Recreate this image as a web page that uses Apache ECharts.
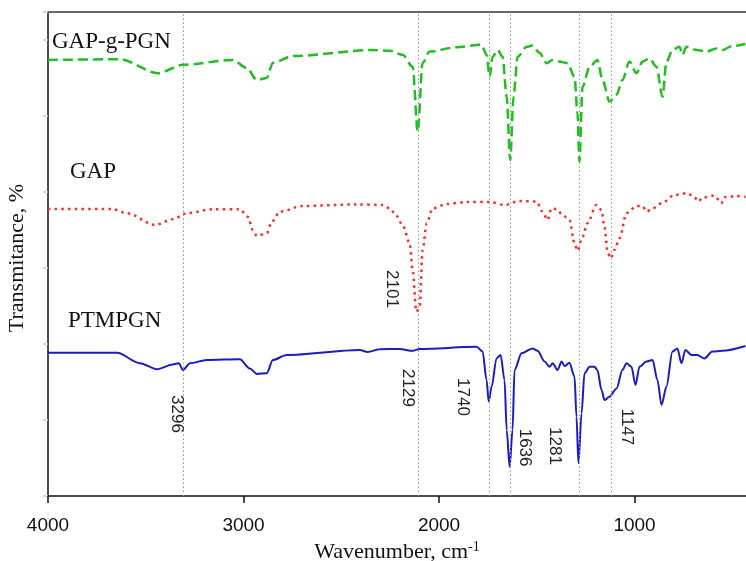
<!DOCTYPE html>
<html>
<head>
<meta charset="utf-8">
<script src="https://cdn.jsdelivr.net/npm/echarts@6/dist/echarts.min.js"></script>
<style>
  html, body { margin: 0; padding: 0; background: #fff; }
  #chart { width: 746px; height: 561px; }
</style>
</head>
<body>
<div id="chart"></div>
<script>
// FTIR spectra, wavenumber (cm-1) vs transmittance (arbitrary offset units)
var xTicks = [4000, 3000, 2000, 1000];

var gapgpgnWn = [4000,3632,3438,3310,3055,2983,2932,2881,2850,2748,2339,2252,2186,2135,2109,2084,2048,1910,1782,1757,1741,1726,1700,1675,1654,1636,1619,1598,1552,1522,1486,1450,1419,1384,1343,1307,1292,1282,1266,1230,1190,1164,1128,1092,1062,1026,990,959,924,888,857,837,806,770,755,735,684,632,581,551,500,433];
var gapgpgnT = [109,109.2,105.7,107.8,109,107,104,104.5,108.3,110,111.5,111.3,110.3,107.3,91.1,108.3,111.1,112.2,112.8,110.3,104.8,109.8,111.5,109.8,99.8,84,99.8,109.8,112.3,112.6,110.8,108.2,109,108.6,108.2,104.8,95.8,83.6,102.3,107.3,109,104,98.6,100.3,104,108.6,105.7,108.6,109.4,107.3,99.8,108.5,111.5,112.3,110.3,112.3,111.5,111.1,111.9,111.5,112.5,113];

var gapWn = [4000,3673,3596,3453,3361,3290,3157,3019,2978,2952,2932,2881,2855,2814,2697,2421,2288,2252,2227,2186,2150,2135,2116,2099,2084,2063,2033,1961,1859,1741,1665,1588,1501,1471,1445,1425,1399,1368,1333,1307,1292,1266,1241,1195,1169,1154,1138,1123,1103,1077,1041,990,959,939,908,857,796,730,694,673,653,592,556,541,479,433];
var gapT = [71.75,71.75,70.7,67.75,69.2,70.7,71.7,71.7,69.8,66.5,65,65.7,68.6,71.1,72.5,72.9,72.75,71.9,70.7,67.75,63.2,56.5,46.1,47.3,61.5,68.2,71.9,73,73.5,73.5,72.75,73.75,73.6,71.1,69,71.9,71.7,70.25,69,63.2,61.3,64.8,68.2,72.75,71.5,67.3,61.1,59.4,61.5,64.4,70.7,72.5,72.5,71.1,71.9,73.3,75.25,75.7,74.7,73.6,74.6,75.1,73.2,74.7,75,74.8];

var ptmpgnWn = [4000,3647,3530,3443,3361,3331,3310,3274,3188,3019,2968,2932,2881,2850,2779,2406,2365,2303,2201,2135,2099,1808,1777,1757,1746,1731,1706,1685,1665,1654,1639,1624,1614,1578,1522,1496,1460,1435,1419,1394,1373,1358,1333,1307,1297,1287,1271,1256,1230,1205,1190,1169,1154,1128,1092,1062,1041,1016,995,975,939,908,883,862,837,806,781,760,740,709,679,643,602,551,433];
var ptmpgnT = [35.8,35.8,33.2,31.7,32.9,33.2,31.5,33.2,34,34.2,31.9,30.5,30.7,34,35.25,36.5,36,36.7,36.75,36.3,36.75,37.3,36.1,29,23.6,27.3,34.4,35.25,29,16.5,7.3,16.5,31.5,35.7,36.9,36.3,33.6,32.3,33.2,31.5,33.6,32.5,33.3,29.8,19.8,8.2,20.7,30.7,32.3,32.3,31.5,26.5,24,24.8,26.9,31.5,33.2,32.3,27.75,32.3,33.6,34,29,22.75,27.3,36.1,36.9,33.2,36.5,35.25,35.25,34.4,36.1,36.3,37.5];

// dotted guide lines and their peak labels
var guideWn = [3310, 2108, 1745, 1638, 1282, 1118];
var peakText = ['3296', '2129', '2101', '1740', '1636', '1281', '1147'];
var peakWn = [3342, 2160, 2242, 1879, 1562, 1408, 1042];
var peakT = [20.5, 27, 51.75, 24.75, 12.1, 12.5, 17.25];

var serif = '"Liberation Serif", "Times New Roman", serif';
var sans = '"Liberation Sans", Arial, sans-serif';

function pairs(xs, ys) {
  return xs.map(function (x, i) { return [x, ys[i]]; });
}

var myChart = echarts.init(document.getElementById('chart'));

myChart.setOption({
  animation: false,
  backgroundColor: '#fff',
  grid: { left: 48, right: 0, top: 12, bottom: 65, containLabel: false, outerBoundsMode: 'none' },
  xAxis: [
    {
      type: 'value',
      inverse: true,
      min: 430,
      max: 4000,
      name: '{a|Wavenumber, cm}{b|-1}',
      nameLocation: 'middle',
      nameGap: 41,
      nameTextStyle: {
        rich: {
          a: { fontFamily: serif, fontSize: 22, color: '#111' },
          b: { fontFamily: serif, fontSize: 14, color: '#111', verticalAlign: 'top', padding: [0, 0, 10, 0] }
        }
      },
      axisLine: { lineStyle: { color: '#111', width: 1.5 } },
      axisTick: { length: 7, lineStyle: { color: '#111', width: 1.5 }, customValues: xTicks },
      axisLabel: {
        margin: 20, fontFamily: sans, fontSize: 19, color: '#111', customValues: xTicks,
        formatter: function (v) { return String(v); }
      },
      splitLine: { show: false }
    },
    {
      type: 'value',
      position: 'top',
      inverse: true,
      min: 430,
      max: 4000,
      axisLine: { show: true, lineStyle: { color: '#666', width: 2 } },
      axisTick: { show: false },
      axisLabel: { show: false },
      splitLine: { show: false }
    }
  ],
  yAxis: {
    type: 'value',
    min: 0,
    max: 121,
    interval: 19,
    name: 'Transmitance, %',
    nameLocation: 'middle',
    nameGap: 20,
    nameTextStyle: { fontFamily: serif, fontSize: 22, color: '#111', padding: [0, 8, 0, 0] },
    axisLine: { show: true, lineStyle: { color: '#111', width: 1.5 } },
    axisTick: { show: true, length: 5, lineStyle: { color: '#ccc', width: 1.5 } },
    axisLabel: { show: false },
    splitLine: { show: false }
  },
  graphic: [
    { type: 'text', x: 52, y: 42, style: { text: 'GAP-g-PGN', fontFamily: serif, fontSize: 23, fill: '#111', verticalAlign: 'middle' } },
    { type: 'text', x: 70, y: 172, style: { text: 'GAP', fontFamily: serif, fontSize: 23, fill: '#111', verticalAlign: 'middle' } },
    { type: 'text', x: 68, y: 321, style: { text: 'PTMPGN', fontFamily: serif, fontSize: 23, fill: '#111', verticalAlign: 'middle' } }
  ],
  series: [
    {
      type: 'line',
      data: [],
      z: 1,
      silent: true,
      markLine: {
        silent: true,
        symbol: ['none', 'none'],
        label: { show: false },
        lineStyle: { color: '#999', type: [1.5, 2.5], width: 1 },
        data: guideWn.map(function (v) { return { xAxis: v }; })
      },
      markPoint: {
        silent: true,
        symbol: 'rect',
        symbolSize: 0,
        label: {
          show: true,
          position: 'inside',
          rotate: -90,
          fontFamily: sans,
          fontSize: 17,
          color: '#222',
          formatter: function (p) { return p.name; }
        },
        data: peakText.map(function (t, i) { return { name: t, coord: [peakWn[i], peakT[i]] }; })
      }
    },
    {
      name: 'GAP-g-PGN',
      type: 'line',
      z: 3,
      showSymbol: false,
      smooth: 0.3,
      smoothMonotone: 'x',
      lineStyle: { color: '#1fbf1f', width: 2.5, type: [10, 5] },
      data: pairs(gapgpgnWn, gapgpgnT)
    },
    {
      name: 'GAP',
      type: 'line',
      z: 3,
      showSymbol: false,
      smooth: 0.3,
      smoothMonotone: 'x',
      lineStyle: { color: '#ff2a2a', width: 2.5, type: [2.5, 4.2] },
      data: pairs(gapWn, gapT)
    },
    {
      name: 'PTMPGN',
      type: 'line',
      z: 3,
      showSymbol: false,
      smooth: 0.3,
      smoothMonotone: 'x',
      lineStyle: { color: '#1c1cc4', width: 2 },
      data: pairs(ptmpgnWn, ptmpgnT)
    }
  ]
});
</script>
</body>
</html>
